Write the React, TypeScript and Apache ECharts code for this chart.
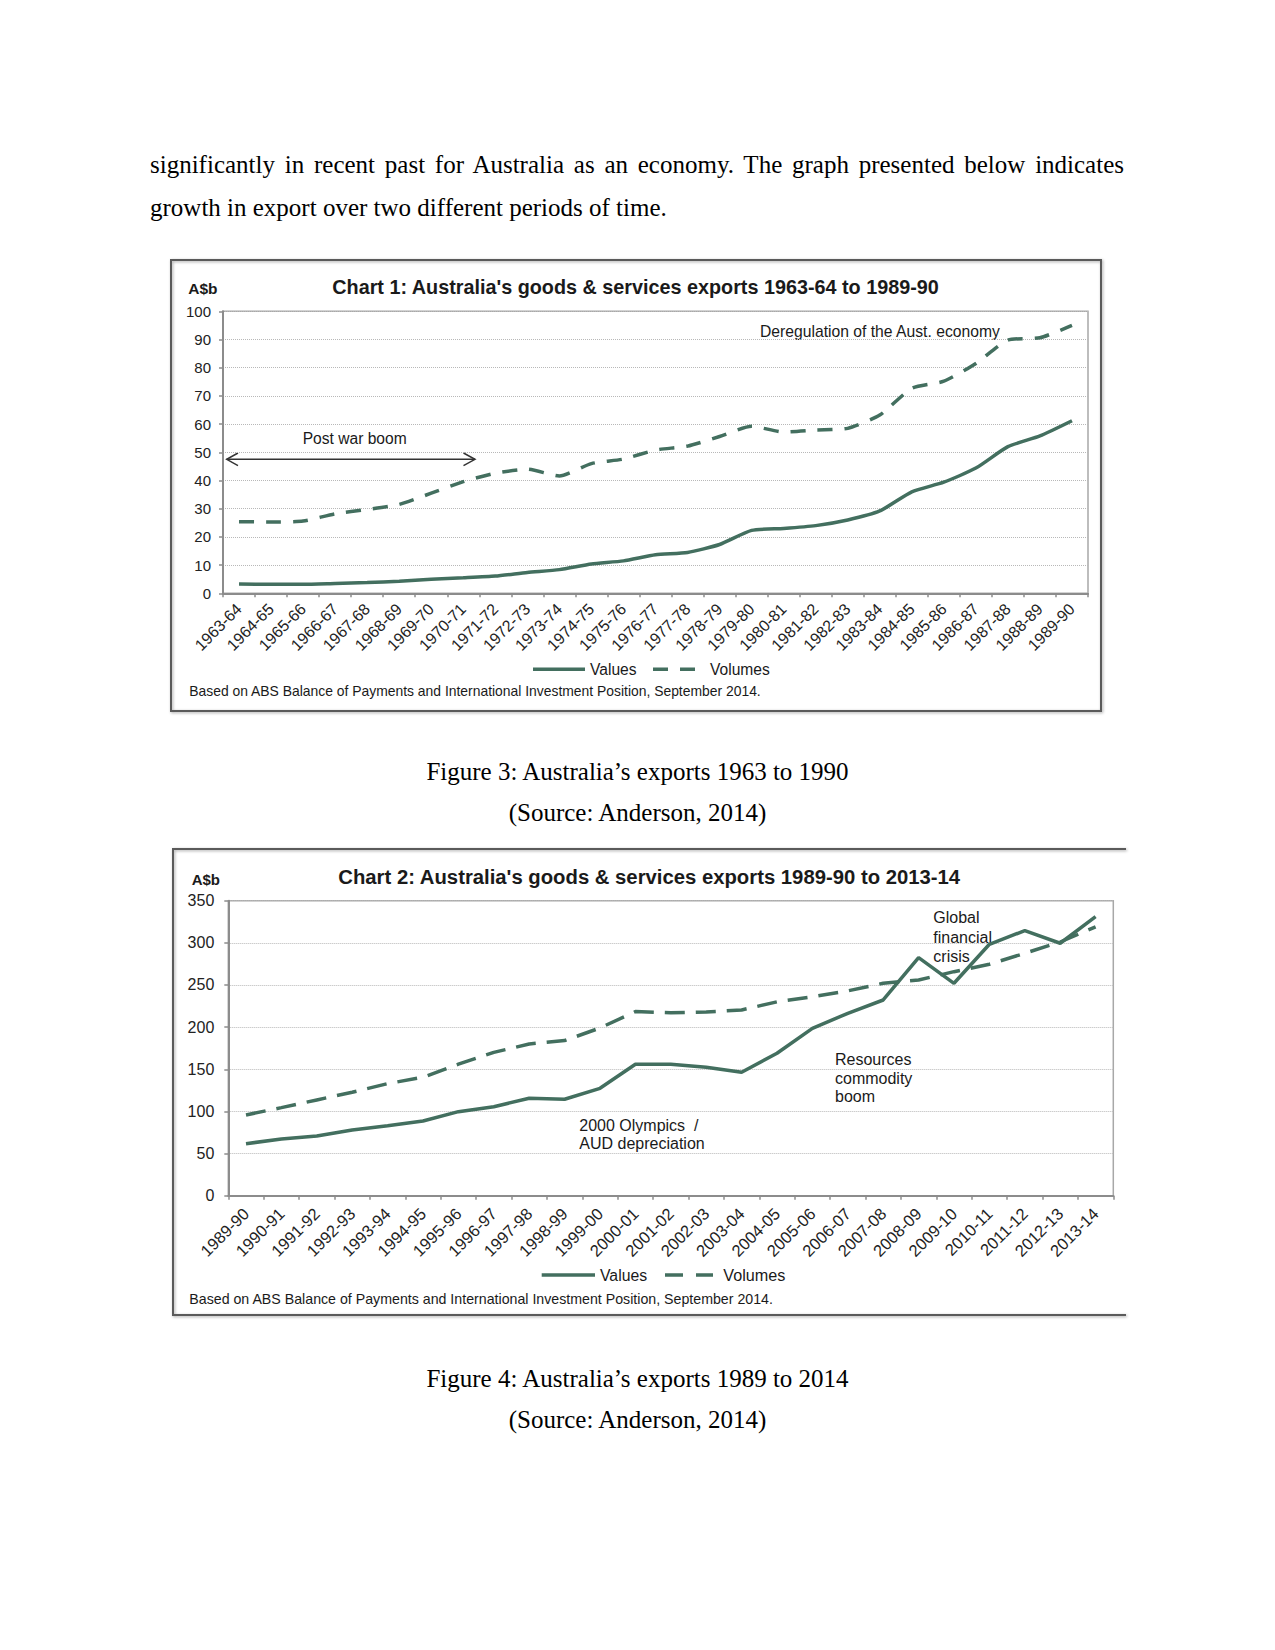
import React, { useEffect, useRef } from 'react';
import * as echarts from 'echarts';

const cats1 = ['1963-64','1964-65','1965-66','1966-67','1967-68','1968-69','1969-70','1970-71','1971-72','1972-73','1973-74','1974-75','1975-76','1976-77','1977-78','1978-79','1979-80','1980-81','1981-82','1982-83','1983-84','1984-85','1985-86','1986-87','1987-88','1988-89','1989-90'];
const values1 = [3.3, 3.2, 3.2, 3.5, 3.8, 4.3, 5.0, 5.5, 6.1, 7.4, 8.4, 10.4, 11.5, 13.7, 14.5, 17.3, 22.3, 23.0, 24.0, 26.0, 29.2, 36.0, 39.4, 44.4, 52.0, 55.8, 61.2];
const volumes1 = [25.4, 25.3, 25.6, 28.2, 29.7, 31.5, 35.5, 39.6, 42.6, 44.0, 41.6, 46.0, 47.6, 50.8, 52.2, 55.6, 59.2, 57.2, 57.9, 58.5, 63.2, 72.7, 75.2, 81.5, 89.8, 90.6, 95.0];

const cats2 = ['1989-90','1990-91','1991-92','1992-93','1993-94','1994-95','1995-96','1996-97','1997-98','1998-99','1999-00','2000-01','2001-02','2002-03','2003-04','2004-05','2005-06','2006-07','2007-08','2008-09','2009-10','2010-11','2011-12','2012-13','2013-14'];
const values2 = [61.7, 67.3, 70.8, 78, 83, 88.6, 99.7, 105.6, 115.6, 114.4, 127.4, 156, 156, 152.5, 146.5, 169, 198.6, 216.4, 232.2, 282.4, 252, 298.3, 314.5, 299.5, 331];
const volumes2 = [95.8, 104.5, 113.6, 122.7, 133, 140.5, 156, 170, 180, 184, 199, 218.4, 217, 218, 220.4, 230, 236, 243, 252, 256, 265.8, 274.6, 287.6, 301, 319];

const yTicks1 = { min: 0, max: 100, interval: 10 };
const yTicks2 = { min: 0, max: 350, interval: 50 };

const FONT = '"Liberation Sans", Arial, sans-serif';
const SERIF = '"Liberation Serif", "Times New Roman", serif';
const GREEN = '#436f5f';
const AXIS = '#8c8c8c';

function xAxisCfg(grid: number, data: string[], margin: number, size: number) {
  return {
    gridIndex: grid, type: 'category', data, boundaryGap: true,
    axisLine: { show: true, lineStyle: { color: AXIS, width: 2 } },
    axisTick: { show: true, interval: 0, length: 4, lineStyle: { color: AXIS, width: 1.5 } },
    axisLabel: { interval: 0, rotate: 45, margin, fontSize: size, color: '#222', fontFamily: FONT },
    splitLine: { show: false },
  };
}
function yAxisCfg(grid: number, t: any, margin: number, size: number) {
  return {
    gridIndex: grid, type: 'value', min: t.min, max: t.max, interval: t.interval,
    axisLine: { show: true, lineStyle: { color: AXIS, width: 2 } },
    axisTick: { show: true, length: 4, lineStyle: { color: AXIS, width: 1.5 } },
    axisLabel: { margin, fontSize: size, color: '#222', fontFamily: FONT },
    splitLine: { show: true, lineStyle: { type: 'dotted', color: '#b8b8b8', width: 1 } },
  };
}

function txt(text: string, x: number, y: number, size: number, opts: any = {}) {
  return {
    type: 'text', x, y, silent: true,
    style: {
      text, fill: opts.fill || '#1a1a1a',
      font: `${opts.bold ? 'bold ' : ''}${size}px ${FONT}`,
      align: opts.align || 'left', verticalAlign: opts.va || 'middle',
      lineHeight: opts.lh,
    },
  };
}
function hline(x1: number, x2: number, y: number, dash?: number[]) {
  return {
    type: 'line', silent: true,
    shape: { x1, y1: y, x2, y2: y },
    style: { stroke: GREEN, lineWidth: 3.5, lineDash: dash || null },
  };
}

export default function App() {
  const ref = useRef<HTMLDivElement>(null);
  useEffect(() => {
    const chart = echarts.init(ref.current!, null, { renderer: 'svg', width: 1275, height: 1650 });
    const option: any = {
      animation: false,
      backgroundColor: 'transparent',
      grid: [
        { left: 223, top: 311.3, width: 865, height: 282, show: true, borderColor: '#a8a8a8', borderWidth: 1.5, containLabel: false },
        { left: 228.3, top: 900.7, width: 885, height: 295, show: true, borderColor: '#a8a8a8', borderWidth: 1.5, containLabel: false },
      ],
      xAxis: [xAxisCfg(0, cats1, 13, 16), xAxisCfg(1, cats2, 15, 16.5)],
      yAxis: [yAxisCfg(0, yTicks1, 12, 15), yAxisCfg(1, yTicks2, 14, 16)],
      series: [
        { name: 'Values', type: 'line', xAxisIndex: 0, yAxisIndex: 0, data: values1, symbol: 'none', smooth: 0.2, lineStyle: { color: GREEN, width: 3.5 } },
        { name: 'Volumes', type: 'line', xAxisIndex: 0, yAxisIndex: 0, data: volumes1, symbol: 'none', smooth: 0.2, lineStyle: { color: GREEN, width: 3.5, type: [15, 12] } },
        { name: 'Values', type: 'line', xAxisIndex: 1, yAxisIndex: 1, data: values2, symbol: 'none', lineStyle: { color: GREEN, width: 3.5 } },
        { name: 'Volumes', type: 'line', xAxisIndex: 1, yAxisIndex: 1, data: volumes2, symbol: 'none', lineStyle: { color: GREEN, width: 3.5, type: [20, 11] } },
      ],
      graphic: [
        // chart 1 frame
        { type: 'rect', silent: true, shape: { x: 171, y: 260, width: 930, height: 451 }, style: { fill: 'none', stroke: '#5a5a5a', lineWidth: 2, shadowBlur: 3, shadowColor: 'rgba(0,0,0,0.35)', shadowOffsetX: 1, shadowOffsetY: 1 } },
        txt('A$b', 188.3, 288.3, 15.5, { bold: true }),
        txt("Chart 1: Australia's goods & services exports 1963-64 to 1989-90", 332.3, 287.3, 19.8, { bold: true }),
        txt('Post war boom', 302.7, 438.3, 15.6),
        { type: 'line', silent: true, shape: { x1: 226.7, y1: 459.3, x2: 475, y2: 459.3 }, style: { stroke: '#333', lineWidth: 1.5 } },
        { type: 'polyline', silent: true, shape: { points: [[238, 453], [226.7, 459.3], [238, 465.6]] }, style: { stroke: '#333', lineWidth: 1.5, fill: 'none' } },
        { type: 'polyline', silent: true, shape: { points: [[463.5, 453], [475, 459.3], [463.5, 465.6]] }, style: { stroke: '#333', lineWidth: 1.5, fill: 'none' } },
        txt('Deregulation of the Aust. economy', 760, 331.7, 15.7),
        hline(533, 585, 669.3),
        txt('Values', 590, 669.3, 15.6),
        hline(653, 698, 669.3, [15, 12]),
        txt('Volumes', 710, 669.3, 15.6),
        txt('Based on ABS Balance of Payments and International Investment Position, September 2014.', 189.3, 690.7, 13.9),
        // chart 2 frame (right edge cut off)
        { type: 'polyline', silent: true, shape: { points: [[1126, 849], [173, 849], [173, 1315], [1126, 1315]] }, style: { fill: 'none', stroke: '#5a5a5a', lineWidth: 2, shadowBlur: 3, shadowColor: 'rgba(0,0,0,0.35)', shadowOffsetX: 1, shadowOffsetY: 1 } },
        txt('A$b', 191.7, 879, 15, { bold: true }),
        txt("Chart 2: Australia's goods & services exports 1989-90 to 2013-14", 338.3, 877.3, 20.3, { bold: true }),
        txt('Global\nfinancial\ncrisis', 933.3, 908, 16, { va: 'top', lh: 19.5 }),
        txt('Resources\ncommodity\nboom', 835, 1050, 16, { va: 'top', lh: 18.7 }),
        txt('2000 Olympics  /\nAUD depreciation', 579.3, 1116, 16, { va: 'top', lh: 18.3 }),
        hline(541.7, 595, 1275),
        txt('Values', 600, 1275, 15.8),
        hline(665, 713, 1275, [18, 13]),
        txt('Volumes', 723.3, 1275, 16.2),
        txt('Based on ABS Balance of Payments and International Investment Position, September 2014.', 189.3, 1299, 14.2),
      ],
    };
    chart.setOption(option);
    return () => chart.dispose();
  }, []);

  const serif: React.CSSProperties = { position: 'absolute', fontFamily: SERIF, fontSize: 25, lineHeight: '30px', color: '#000', whiteSpace: 'nowrap' };
  return (
    <div style={{ position: 'absolute', left: 0, top: 0, width: 1275, height: 1650, background: '#fff' }}>
      <div ref={ref} style={{ position: 'absolute', left: 0, top: 0, width: 1275, height: 1650 }} />
      <div style={{ ...serif, left: 150, top: 150, width: 974, textAlign: 'justify', textAlignLast: 'justify', whiteSpace: 'normal' }}>
        significantly in recent past for Australia as an economy. The graph presented below indicates
      </div>
      <div style={{ ...serif, left: 150, top: 193 }}>growth in export over two different periods of time.</div>
      <div style={{ ...serif, left: 0, width: 1275, top: 757, textAlign: 'center' }}>Figure 3: Australia’s exports 1963 to 1990</div>
      <div style={{ ...serif, left: 0, width: 1275, top: 798, textAlign: 'center' }}>(Source: Anderson, 2014)</div>
      <div style={{ ...serif, left: 0, width: 1275, top: 1364, textAlign: 'center' }}>Figure 4: Australia’s exports 1989 to 2014</div>
      <div style={{ ...serif, left: 0, width: 1275, top: 1405, textAlign: 'center' }}>(Source: Anderson, 2014)</div>
    </div>
  );
}
